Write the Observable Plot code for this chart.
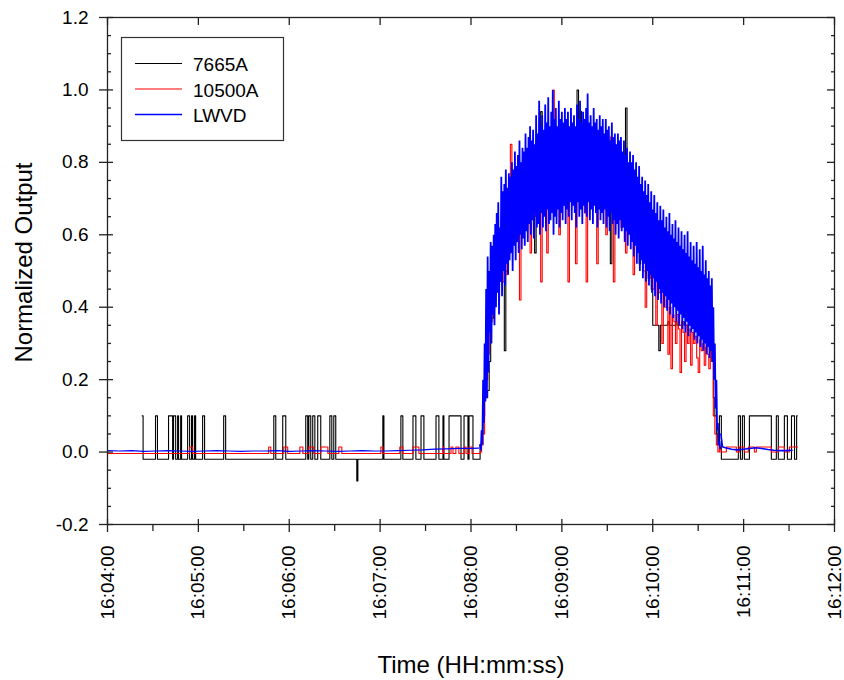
<!DOCTYPE html>
<html><head><meta charset="utf-8">
<script src="https://cdn.jsdelivr.net/npm/d3@7"></script>
<script src="https://cdn.jsdelivr.net/npm/@observablehq/plot@0.6"></script>
<style>
body{margin:0;background:#fff;}
#chart{width:844px;height:680px;}
</style></head><body><div id="chart"></div>
<script>
// ---------------- data ----------------
const timeOrigin = "16:04:00";               // times below are seconds after this
const xTickLabels = ["16:04:00","16:05:00","16:06:00","16:07:00","16:08:00","16:09:00","16:10:00","16:11:00","16:12:00"];
const yTicks = [-0.2, 0.0, 0.2, 0.4, 0.6, 0.8, 1.0, 1.2];
const seriesNames = ["7665A", "10500A", "LWVD"];
const seriesColors = ["#000000", "#ff0000", "#0000ff"];

// sampled part (one value per second) starts here
const activeStart = 246;

// 7665A (black) before the pass: transitions
const blackQuietT = [22.9,23.5, 31.7,33.0, 40.3,43.0, 43.6,45.0, 46.3,46.9, 48.3,48.9, 52.9,54.2, 55.5,56.2, 57.5,58.2, 62.8,64.1, 76.7,78.0, 109.8,111.1, 115.7,117.7, 130.9,132.2, 132.9,134.2, 135.5,136.9, 138.8,140.8, 146.8,148.1, 149.4,150.7, 164.6,165.3, 181.8,182.5, 193.7,195.0, 201.7,203.6, 207.0,208.9, 216.9,218.8, 221.5,222.1, 225.5,233.4, 235.4,238.0, 238.7,241.3];
const blackQuietV = [0.1,-0.02, 0.1,-0.02, 0.1,-0.02, 0.1,-0.02, 0.1,-0.02, 0.1,-0.02, 0.1,-0.02, 0.1,-0.02, 0.1,-0.02, 0.1,-0.02, 0.1,-0.02, 0.1,-0.02, 0.1,-0.02, 0.1,-0.02, 0.1,-0.02, 0.1,-0.02, 0.1,-0.02, 0.1,-0.02, 0.1,-0.02, -0.08,-0.02, 0.1,-0.02, 0.1,-0.02, 0.1,-0.02, 0.1,-0.02, 0.1,-0.02, 0.1,-0.02, 0.1,-0.02, 0.1,-0.02, 0.1,-0.02];
const blackActive = [
 0.02,0.05,0.10,0.15,0.15,0.17,0.25,0.37,0.37,0.45,
 0.50,0.45,0.55,0.50,0.60,0.55,0.28,0.50,0.60,0.55,
 0.65,0.60,0.70,0.65,0.62,0.70,0.66,0.72,0.68,0.75,
 0.70,0.74,0.68,0.72,0.76,0.70,0.55,0.74,0.78,0.72,
 0.94,0.76,0.72,0.80,0.74,0.78,0.72,0.82,0.76,0.80,
 0.74,0.78,0.72,0.82,0.76,0.70,0.78,0.74,0.80,0.76,
 0.72,0.78,0.74,0.80,1.00,0.80,0.94,0.78,0.74,0.80,
 0.76,0.82,0.74,0.78,0.72,0.80,0.76,0.74,0.82,0.78,
 0.74,0.80,0.76,0.72,0.78,0.74,0.52,0.76,0.72,0.78,
 0.74,0.70,0.76,0.72,0.68,0.74,0.95,0.70,0.72,0.66,
 0.70,0.64,0.68,0.62,0.66,0.52,0.62,0.58,0.60,0.55,
 0.52,0.48,0.50,0.45,0.35,0.35,0.35,0.35,0.28,0.35,
 0.35,0.35,0.35,0.35,0.36,0.35,0.35,0.35,0.35,0.36,
 0.35,0.35,0.35,0.35,0.36,0.35,0.35,0.35,0.35,0.35,
 0.35,0.35,0.36,0.35,0.35,0.35,0.35,0.35,0.35,0.36,
 0.35,0.35,0.30,0.25,0.15,0.10,0.05,0.02,0.10];
const blackTailT = [405.3,416.5,417.9,419.2,420.5,423.8,438.3,441.6,442.9,446.9,448.9,451.6,453.6,455.0,455.5];
const blackTailV = [-0.02,0.1,-0.02,0.1,-0.02,0.1,-0.02,0.1,-0.02,0.1,-0.02,0.1,-0.02,0.1,0.1];

// 10500A (red)
const redQuietT = [0, 54.2,56.2, 106.4,107.8, 116.4,119.0, 127.0,129.0, 132.9,136.2, 140.8,145.5, 152.7,154.7, 180.5,181.8, 193.0,195.0, 201.7,205.6, 221.5,222.1, 226.8,228.1, 230.0,232.0, 235.4,236.7, 238.7,240.7];
const redQuietV = [-0.004, 0.014,-0.004, 0.014,-0.004, 0.014,-0.004, 0.014,-0.004, 0.014,-0.004, 0.014,-0.004, 0.014,-0.004, 0.014,-0.004, 0.014,-0.004, 0.014,-0.004, 0.014,-0.004, 0.014,-0.004, 0.014,-0.004, 0.014,-0.004, 0.014,-0.004];
const redActive = [
 0.00,0.02,0.05,0.15,0.20,0.27,0.34,0.36,0.38,0.45,
 0.50,0.55,0.48,0.60,0.52,0.47,0.65,0.49,0.62,0.58,
 0.85,0.62,0.66,0.58,0.68,0.63,0.42,0.60,0.70,0.66,
 0.72,0.64,0.70,0.55,0.74,0.68,0.72,0.65,0.75,0.70,
 0.47,0.72,0.68,0.78,0.55,0.74,0.70,0.80,1.00,0.72,
 0.75,0.70,0.60,0.78,0.72,0.76,0.68,0.74,0.47,0.72,
 0.78,0.70,0.75,0.52,0.76,0.72,0.80,0.70,0.74,0.66,
 0.47,0.74,0.72,0.78,0.68,0.75,0.70,0.52,0.74,0.70,
 0.76,0.68,0.72,0.60,0.74,0.70,0.87,0.72,0.47,0.70,
 0.74,0.66,0.70,0.62,0.72,0.68,0.55,0.70,0.64,0.66,
 0.62,0.49,0.64,0.60,0.58,0.62,0.55,0.58,0.50,0.40,
 0.55,0.52,0.48,0.54,0.45,0.50,0.35,0.48,0.44,0.46,
 0.30,0.44,0.40,0.42,0.27,0.40,0.23,0.38,0.36,0.30,
 0.38,0.34,0.22,0.36,0.33,0.25,0.35,0.30,0.34,0.24,
 0.33,0.30,0.32,0.26,0.22,0.31,0.28,0.30,0.24,0.29,
 0.27,0.23,0.28,0.26,0.10,0.05,0.02,0.00,0.014];
const redTailT = [405.0,408.6,415.2,417.2,420.5,423.1,427.1,428.4,438.3,442.9,446.9,450.2,455.5];
const redTailV = [0.0,0.014,0.0,0.014,0.0,0.014,0.0,0.014,0.0,0.014,0.0,0.014,0.014];

// LWVD (blue)
const blueQuietT = [0,8,16,24,32,40,48,56,64,72,80,88,96,104,112,120,128,136,144,152,160,168,176,184,192,200,208,216,224,232,240,245];
const blueQuietV = [0.004,0.003,0.004,0.002,0.003,0.004,0.003,0.002,0.003,0.004,0.003,0.002,0.003,0.003,0.004,0.002,0.003,0.004,0.003,0.002,0.003,0.004,0.003,0.003,0.004,0.005,0.006,0.008,0.009,0.010,0.010,0.011];
// per-second maxima and minima of the fast oscillation
const blueHigh = [
 0.02,0.06,0.20,0.30,0.45,0.54,0.50,0.58,0.57,0.60,
 0.63,0.66,0.69,0.62,0.76,0.72,0.74,0.78,0.73,0.77,
 0.76,0.80,0.78,0.83,0.79,0.82,0.86,0.80,0.84,0.83,
 0.88,0.84,0.87,0.90,0.86,0.89,0.85,0.93,0.88,0.97,
 0.90,0.93,0.89,0.96,0.91,0.98,0.90,0.94,1.00,0.92,
 0.95,0.90,0.97,0.92,0.94,0.91,0.95,0.92,0.94,0.90,
 0.95,0.91,0.93,0.90,0.96,0.92,0.97,0.91,0.94,0.92,
 0.95,0.99,0.91,0.93,0.90,0.95,0.91,0.92,0.89,0.93,
 0.90,0.92,0.88,0.92,0.89,0.90,0.86,0.91,0.87,0.88,
 0.85,0.88,0.86,0.87,0.83,0.86,0.82,0.84,0.80,0.83,
 0.80,0.82,0.78,0.80,0.76,0.79,0.74,0.76,0.72,0.75,
 0.71,0.74,0.69,0.72,0.67,0.71,0.66,0.69,0.64,0.68,
 0.64,0.67,0.62,0.65,0.61,0.66,0.60,0.63,0.59,0.64,
 0.58,0.62,0.57,0.61,0.56,0.60,0.55,0.61,0.54,0.58,
 0.53,0.57,0.52,0.58,0.51,0.56,0.50,0.57,0.49,0.53,
 0.48,0.50,0.46,0.48,0.40,0.30,0.20,0.08,0.03];
const blueLow = [
 0.005,0.02,0.08,0.14,0.15,0.22,0.33,0.30,0.38,0.35,
 0.40,0.44,0.38,0.47,0.43,0.50,0.46,0.52,0.49,0.53,
 0.55,0.50,0.57,0.53,0.58,0.55,0.60,0.56,0.59,0.57,
 0.61,0.58,0.63,0.60,0.64,0.59,0.65,0.62,0.63,0.60,
 0.66,0.62,0.65,0.61,0.67,0.63,0.64,0.66,0.60,0.65,
 0.63,0.67,0.62,0.66,0.64,0.68,0.63,0.67,0.65,0.69,
 0.64,0.68,0.66,0.62,0.69,0.65,0.67,0.63,0.68,0.66,
 0.65,0.69,0.64,0.67,0.63,0.68,0.66,0.62,0.67,0.64,
 0.66,0.63,0.67,0.62,0.65,0.61,0.66,0.63,0.64,0.60,
 0.63,0.59,0.64,0.61,0.62,0.58,0.61,0.57,0.60,0.56,
 0.58,0.54,0.57,0.52,0.55,0.50,0.53,0.48,0.52,0.47,
 0.50,0.46,0.49,0.44,0.48,0.43,0.47,0.42,0.45,0.41,
 0.44,0.40,0.43,0.39,0.42,0.38,0.41,0.37,0.40,0.36,
 0.39,0.35,0.38,0.34,0.37,0.33,0.36,0.32,0.35,0.33,
 0.34,0.31,0.33,0.30,0.32,0.29,0.31,0.28,0.30,0.27,
 0.29,0.26,0.28,0.25,0.20,0.12,0.06,0.02,0.01];
const blueTailT = [405,406,408,412,416,420,424,428,432,436,440,444,448,452];
const blueTailV = [0.05,0.015,0.012,0.008,0.006,0.008,0.010,0.012,0.010,0.007,0.005,0.004,0.004,0.005];

// ---------------- build ----------------
const hms = s => { const [h,m,sec] = s.split(":").map(Number); return Date.UTC(2000,0,1,h,m,sec); };
const t0 = hms(timeOrigin);
const toDate = sec => new Date(t0 + sec * 1000);
const pairs = (T, V) => T.map((t, i) => ({t, v: V[i]}));
const sampled = V => V.map((v, i) => ({t: activeStart + i, v}));

const black = [...pairs(blackQuietT, blackQuietV), ...sampled(blackActive), ...pairs(blackTailT, blackTailV)];
const red = [...pairs(redQuietT, redQuietV), ...sampled(redActive), ...pairs(redTailT, redTailV)];
const blueFast = blueHigh.flatMap((h, i) => [{t: activeStart + i, v: h}, {t: activeStart + i + 0.5, v: blueLow[i]}]);
const blueQuiet = pairs(blueQuietT, blueQuietV);
const blueTail = pairs(blueTailT, blueTailV);

const xMajor = xTickLabels.map(l => new Date(hms(l)));
const xMinor = xMajor.slice(0, -1).map(d => new Date(+d + 30000));
const yMinor = d3.range(-0.2, 1.2001, 0.05).map(v => +v.toFixed(2)).filter(v => !yTicks.some(t => Math.abs(t - v) < 1e-6));
const fmtTime = d3.utcFormat("%H:%M:%S");
const fmtY = v => v.toFixed(1);
const axisColor = "#222";
const X = d => toDate(d.t);

const chart = Plot.plot({
  width: 844, height: 680,
  marginLeft: 107, marginRight: 10, marginTop: 17, marginBottom: 156,
  style: {fontFamily: "'Liberation Sans', Arial, sans-serif", fontSize: "19px", color: "#000", background: "#fff"},
  x: {type: "utc", domain: [xMajor[0], xMajor[xMajor.length - 1]]},
  y: {domain: [yTicks[0], yTicks[yTicks.length - 1]]},
  marks: [
    Plot.line(black, {x: X, y: "v", stroke: seriesColors[0], strokeWidth: 1.1, curve: "step-after"}),
    Plot.line(red, {x: X, y: "v", stroke: seriesColors[1], strokeWidth: 1.1, curve: "step-after"}),
    Plot.line(blueQuiet, {x: X, y: "v", stroke: seriesColors[2], strokeWidth: 1.2}),
    Plot.line(blueFast, {x: X, y: "v", stroke: seriesColors[2], strokeWidth: 1.8, strokeLinejoin: "bevel"}),
    Plot.line(blueTail, {x: X, y: "v", stroke: seriesColors[2], strokeWidth: 1.6}),
    Plot.frame({stroke: axisColor, strokeWidth: 1.3}),
    // bottom: major ticks cross the axis, minor ticks outward
    Plot.axisX(xMajor, {anchor: "bottom", tickSize: 13, dy: -5, fill: "none", stroke: axisColor, strokeWidth: 1.3}),
    Plot.axisX(xMinor, {anchor: "bottom", tickSize: 7, fill: "none", stroke: axisColor, strokeWidth: 1.3}),
    // top: major ticks inward
    Plot.axisX(xMajor, {anchor: "top", tickSize: 7, dy: 7, fill: "none", stroke: axisColor, strokeWidth: 1.3}),
    // left: major ticks cross, minor inward
    Plot.axisY(yTicks, {anchor: "left", tickSize: 14, dx: 6, fill: "none", stroke: axisColor, strokeWidth: 1.3}),
    Plot.axisY(yMinor, {anchor: "left", tickSize: 4, dx: 4, fill: "none", stroke: axisColor, strokeWidth: 1.3}),
    // right: inward
    Plot.axisY(yTicks, {anchor: "right", tickSize: 8, dx: -8, fill: "none", stroke: axisColor, strokeWidth: 1.3}),
    Plot.axisY(yMinor, {anchor: "right", tickSize: 4, dx: -4, fill: "none", stroke: axisColor, strokeWidth: 1.3}),
    // tick labels
    Plot.text(xMajor, {x: d => d, frameAnchor: "bottom", rotate: -90, textAnchor: "end", lineAnchor: "middle", dy: 21, text: d => fmtTime(d), fontSize: 19, fill: "#000"}),
    Plot.text(yTicks, {y: d => d, frameAnchor: "left", textAnchor: "end", lineAnchor: "middle", dx: -19, text: d => fmtY(d), fontSize: 19, fill: "#000"}),
    // axis titles
    Plot.text(["Time (HH:mm:ss)"], {frameAnchor: "bottom", textAnchor: "middle", lineAnchor: "bottom", dy: 148, fontSize: 24, fill: "#000"}),
    Plot.text(["Normalized Output"], {frameAnchor: "left", textAnchor: "middle", rotate: -90, lineAnchor: "bottom", dx: -75.5, dy: -8.5, fontSize: 24, fill: "#000"})
  ]
});

// legend (inside the plot, upper left)
const svg = d3.select(chart);
const lg = svg.append("g").attr("font-family", "'Liberation Sans', Arial, sans-serif").attr("font-size", 19).attr("text-anchor", "start");
lg.append("rect").attr("x", 121.5).attr("y", 37.5).attr("width", 162).attr("height", 103)
  .attr("fill", "#fff").attr("stroke", "#333").attr("stroke-width", 1.2);
seriesNames.forEach((name, i) => {
  const cy = 63.5 + i * 25.5;
  lg.append("line").attr("x1", 135).attr("x2", 182).attr("y1", cy).attr("y2", cy)
    .attr("stroke", seriesColors[i]).attr("stroke-width", i === 2 ? 1.4 : 1.2);
  lg.append("text").attr("x", 193).attr("y", cy + 7.5).attr("fill", "#000").attr("text-anchor", "start").text(name);
});

document.getElementById("chart").appendChild(chart);
</script>
</body></html>
